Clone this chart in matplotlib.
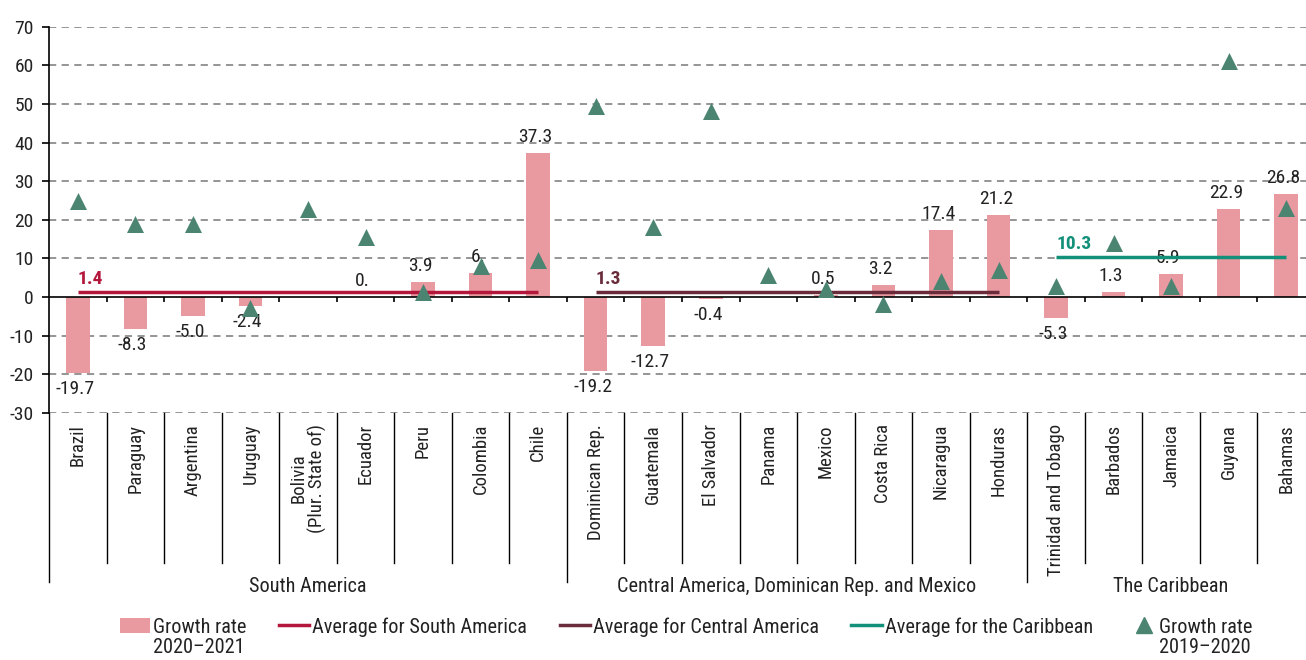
import matplotlib
matplotlib.use("Agg")
import matplotlib.pyplot as plt
import matplotlib.transforms as mtransforms
from matplotlib.lines import Line2D
from matplotlib.patches import Patch
from matplotlib.legend_handler import HandlerLine2D
from matplotlib import font_manager
import numpy as np

# pick a condensed font if one is installed
entries = font_manager.fontManager.ttflist
names = {f.name for f in entries}
FONT, STRETCH, SCALE = "DejaVu Sans", "normal", 0.8
for cand in ["Roboto Condensed", "Liberation Sans Narrow", "Arial Narrow",
             "DejaVu Sans Condensed", "Noto Sans Condensed", "Open Sans Condensed"]:
    if cand in names:
        FONT, SCALE = cand, 1.0
        break
else:
    cond = [f for f in entries if (isinstance(f.stretch, str) and "condensed" in f.stretch)
            or (isinstance(f.stretch, int) and f.stretch < 500)]
    pref = ["Roboto", "Noto Sans", "Open Sans", "DejaVu Sans", "Inter", "Lato"]
    cond.sort(key=lambda f: pref.index(f.name) if f.name in pref else 99)
    if cond:
        FONT, STRETCH, SCALE = cond[0].name, "condensed", 1.0
plt.rcParams["font.family"] = [FONT, "DejaVu Sans"]
plt.rcParams["font.stretch"] = STRETCH

# ---------------- data ----------------
countries = ["Brazil", "Paraguay", "Argentina", "Uruguay", "Bolivia\n(Plur. State of)",
             "Ecuador", "Peru", "Colombia", "Chile",
             "Dominican Rep.", "Guatemala", "El Salvador", "Panama", "Mexico",
             "Costa Rica", "Nicaragua", "Honduras",
             "Trinidad and Tobago", "Barbados", "Jamaica", "Guyana", "Bahamas"]
groups = ["South America", "Central America, Dominican Rep. and Mexico", "The Caribbean"]
group_sizes = [9, 8, 5]

growth_2021 = [-19.7, -8.3, -5.0, -2.4, 0.0, 0.1, 3.9, 6.3, 37.3,
               -19.2, -12.7, -0.4, 0.0, 0.5, 3.2, 17.4, 21.2,
               -5.3, 1.3, 5.9, 22.9, 26.8]
bar_labels = ["-19.7", "-8.3", "-5.0", "-2.4", "", "0.", "3.9", "6.", "37.3",
              "-19.2", "-12.7", "-0.4", "", "0.5", "3.2", "17.4", "21.2",
              "-5.3", "1.3", "5.9", "22.9", "26.8"]
growth_2020 = [24.9, 18.9, 18.9, -2.9, 22.7, 15.6, 1.4, 8.0, 9.5,
               49.5, 18.1, 48.3, 5.8, 2.1, -1.8, 4.1, 6.9,
               2.8, 14.0, 2.9, 61.0, 23.1]
group_avgs = [1.4, 1.3, 10.3]
avg_labels = ["1.4", "1.3", "10.3"]
avg_names = ["Average for South America", "Average for Central America",
             "Average for the Caribbean"]
legend_bar = ["Growth rate", "2020\u20132021"]
legend_tri = ["Growth rate", "2019\u20132020"]

yticks = [-30, -20, -10, 0, 10, 20, 30, 40, 50, 60, 70]

# ---------------- style ----------------
BAR_C = "#e89aa0"
TRI_C = "#4b8572"
AVG_C = ["#b3173c", "#6a2b3b", "#139079"]
FS = 14 * SCALE
FS_L = 14.6 * SCALE
TXT = "#222222"

W, H = 1306, 660
fig = plt.figure(figsize=(W / 100, H / 100), dpi=100)
left_px, right_px, top_px, bot_px = 49, 1315, 26.7, 413
ax = fig.add_axes([left_px / W, 1 - bot_px / H, (right_px - left_px) / W, (bot_px - top_px) / H])

n = len(countries)
x = np.arange(n)
ax.set_xlim(-0.5, n - 0.5)
ax.set_ylim(-30, 70)

# grid
for yv in yticks:
    if yv != 0:
        ax.axhline(yv, color="#8c8c8c", lw=1.3, ls=(0, (4, 3)), zorder=0)
ax.axhline(0, color="black", lw=1.2, zorder=3)

ax.bar(x, growth_2021, width=0.41, color=BAR_C, zorder=2)
ax.scatter(x, growth_2020, marker="^", s=150, color=TRI_C, zorder=5, linewidths=0)

# bar labels
for xi, v, lab in zip(x, growth_2021, bar_labels):
    if not lab:
        continue
    if v >= 0:
        ax.annotate(lab, (xi, v), xytext=(-2, 5), textcoords="offset points",
                    ha="center", va="bottom", fontsize=FS, color=TXT)
    else:
        ax.annotate(lab, (xi, v), xytext=(-2, -5), textcoords="offset points",
                    ha="center", va="top", fontsize=FS, color=TXT)

# group averages
starts = np.cumsum([0] + group_sizes[:-1])
for s, size, avg, lab, c in zip(starts, group_sizes, group_avgs, avg_labels, AVG_C):
    ax.plot([s, s + size - 1], [avg, avg], color=c, lw=2.5, zorder=4, solid_capstyle="butt")
    ax.annotate(lab, (s, avg), xytext=(0, 3), textcoords="offset points",
                ha="left", va="bottom", fontsize=FS, fontweight="bold", color=c)

# axes styling
for sp in ["top", "right", "bottom"]:
    ax.spines[sp].set_visible(False)
ax.spines["left"].set_linewidth(1.2)
ax.set_yticks(yticks)
ax.set_yticklabels([str(v) for v in yticks], fontsize=FS, color=TXT)
ax.tick_params(axis="y", length=5, width=1.2, pad=6)
ax.set_xticks([])

# small ticks on zero line
bounds = np.arange(n) + 0.5
ax.vlines(bounds[:-1], -1.3, 0, color="black", lw=1.2, zorder=3)

# category axis below the plot
trans = mtransforms.blended_transform_factory(ax.transData, ax.transAxes)
ph = bot_px - top_px
sep_short = -(563 - bot_px) / ph
sep_long = -(582 - bot_px) / ph
group_bounds = list(np.cumsum([0] + group_sizes) - 0.5)
for b in np.arange(n + 1) - 0.5:
    is_group = any(abs(b - g) < 1e-6 for g in group_bounds)
    ylow = sep_long if is_group else sep_short
    ax.plot([b, b], [0, ylow], transform=trans, color="black", lw=1.0, clip_on=False)

label_top = -(424 - bot_px) / ph
for xi, name in zip(x, countries):
    ax.text(xi, label_top, name, transform=trans, rotation=90, ha="center", va="top",
            fontsize=FS - 0.5, color=TXT, multialignment="center", linespacing=1.0)

grp_y = -(586 - bot_px) / ph
for s, size, g in zip(starts, group_sizes, groups):
    ax.text(s + (size - 1) / 2, grp_y, g, transform=trans, ha="center", va="center",
            fontsize=FS_L, color=TXT)


# legend
class ShiftLine(HandlerLine2D):
    def __init__(self, dx=0.0, **kw):
        super().__init__(**kw)
        self.dx = dx

    def create_artists(self, legend, orig_handle, xdescent, ydescent, width, height,
                       fontsize, trans):
        return super().create_artists(legend, orig_handle, xdescent - self.dx,
                                      ydescent, width, height, fontsize, trans)


bar_h = Patch(facecolor=BAR_C, edgecolor="none")
line_hs = [Line2D([0], [0], color=c, lw=2.5) for c in AVG_C]
tri_h = Line2D([0], [0], marker="^", color=TRI_C, lw=0, markersize=11)
handles = [bar_h] + line_hs + [tri_h]
labels = [legend_bar[0]] + avg_names + [legend_tri[0]]
leg = fig.legend(handles, labels, loc="center", bbox_to_anchor=(686 / W, 1 - 627 / H),
                 ncol=5, frameon=False, fontsize=FS_L, handlelength=1.5, handleheight=0.8,
                 handletextpad=0.15, columnspacing=1.6, labelcolor=TXT, borderpad=0.0,
                 handler_map={tri_h: ShiftLine(dx=2.0)})

# second lines of the two-line legend labels
fig.canvas.draw()
texts = leg.get_texts()
for idx, second in [(0, legend_bar[1]), (len(texts) - 1, legend_tri[1])]:
    bb = texts[idx].get_window_extent()
    fig.text(bb.x0 / W, (bb.y0 + bb.y1) / 2 / H - 20 / H, second, ha="left", va="center",
             fontsize=FS_L, color=TXT)

fig.savefig("out.png", dpi=100)
